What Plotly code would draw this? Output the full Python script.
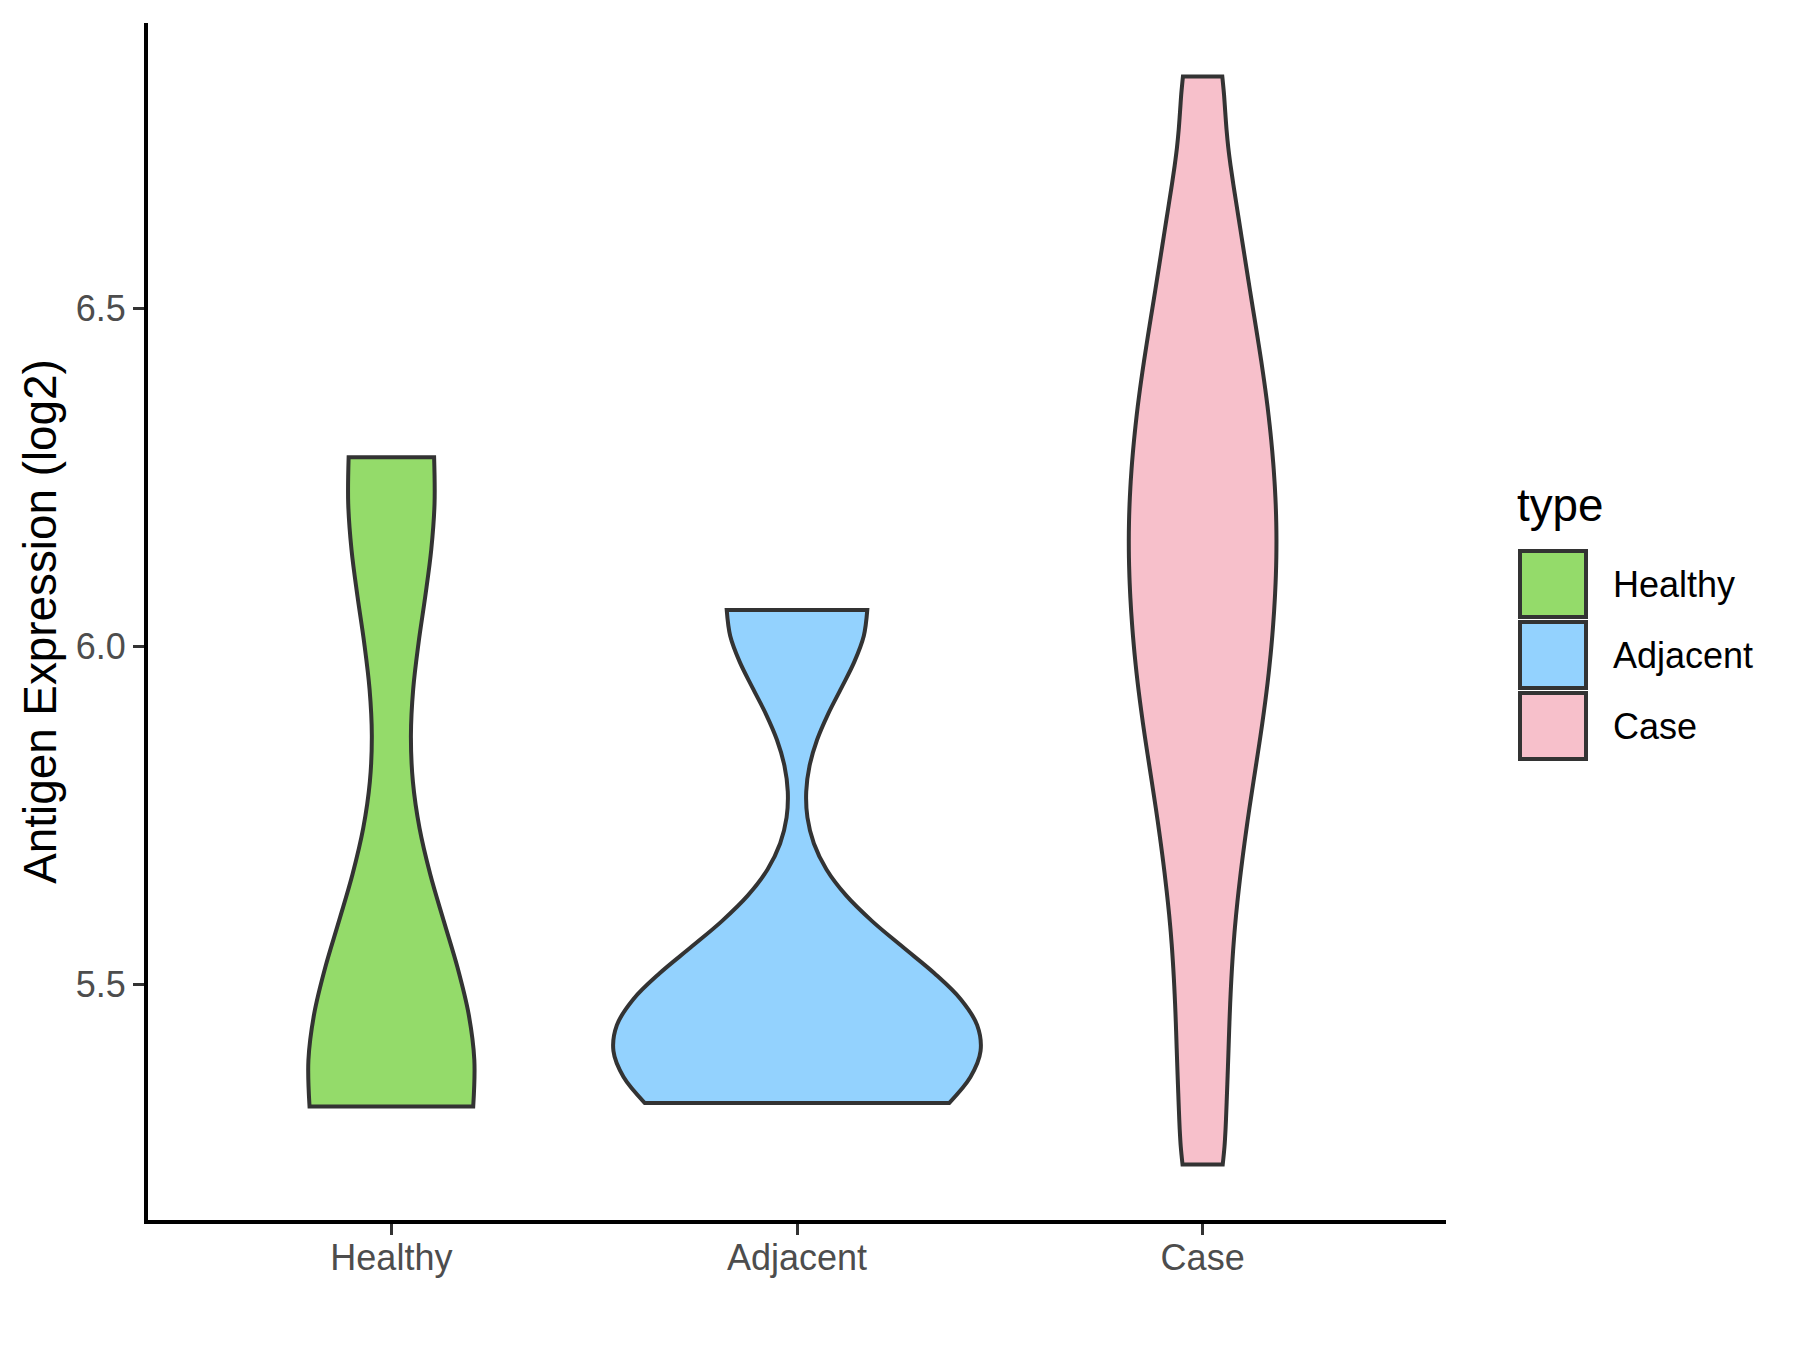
import plotly.graph_objects as go

# ---------------- data ----------------
categories = ["Healthy", "Adjacent", "Case"]
healthy_values = [5.32, 5.32, 5.34, 5.50, 6.20, 6.28]
adjacent_values = [5.325, 5.42, 5.48, 6.054]
case_values = [5.234, 5.372, 5.496, 5.607, 5.697, 5.772, 5.837, 5.892,
               5.945, 5.992, 6.039, 6.084, 6.128, 6.171, 6.215, 6.259,
               6.306, 6.353, 6.406, 6.460, 6.527, 6.601, 6.698, 6.843]
y_tick_values = [5.5, 6.0, 6.5]
y_tick_labels = ["5.5", "6.0", "6.5"]
y_title = "Antigen Expression (log2)"
legend_title = "type"

# ---------------- style ----------------
fill_colors = ["#94DB6A", "#93D2FE", "#F7C0CB"]
bandwidths = [0.22, 0.12, 0.08]
violin_widths = [0.409, 0.905, 0.364]
outline = "#333333"
FONT = "Liberation Sans, Arial, sans-serif"

W, H = 1800, 1350
OFF = 8                      # page offset of the figure (body margin)
L, R, T, B = 140, 362, 15, 138
plot_w = W - L - R
plot_h = H - T - B


def px_x(p):
    return (p - OFF - L) / plot_w


def px_y(p):
    return (OFF + T + plot_h - p) / plot_h


series = [healthy_values, adjacent_values, case_values]

fig = go.Figure()
for cat, vals, col, bw, wd in zip(categories, series, fill_colors, bandwidths, violin_widths):
    fig.add_trace(go.Violin(
        x=[cat] * len(vals),
        y=vals,
        name=cat,
        fillcolor=col,
        line=dict(color=outline, width=4),
        spanmode="hard",
        bandwidth=bw,
        scalemode="width",
        scalegroup=cat,
        width=wd,
        points=False,
        box_visible=False,
        meanline_visible=False,
        opacity=1,
        showlegend=False,
    ))

# ---------------- legend (ggplot style keys) ----------------
shapes = []
annotations = []
key_x0, key_x1 = 1520, 1586
key_centers = [584, 655, 726]
key_half = 33
for cat, col, cy in zip(categories, fill_colors, key_centers):
    shapes.append(dict(
        type="rect", xref="paper", yref="paper",
        x0=px_x(key_x0), x1=px_x(key_x1),
        y0=px_y(cy + key_half), y1=px_y(cy - key_half),
        fillcolor=col, line=dict(color=outline, width=4), layer="above",
    ))
    annotations.append(dict(
        xref="paper", yref="paper", x=px_x(1611), y=px_y(cy),
        xanchor="left", yanchor="middle", showarrow=False,
        text=cat, font=dict(family=FONT, size=36, color="black"),
    ))
annotations.append(dict(
    xref="paper", yref="paper", x=px_x(1515), y=px_y(505),
    xanchor="left", yanchor="middle", showarrow=False,
    text=legend_title, font=dict(family=FONT, size=45.8, color="black"),
))

fig.update_layout(
    width=W, height=H,
    margin=dict(l=L, r=R, t=T, b=B, pad=0),
    paper_bgcolor="white", plot_bgcolor="white",
    violinmode="overlay",
    showlegend=False,
    font=dict(family=FONT, size=36, color="#4D4D4D"),
    shapes=shapes,
    annotations=annotations,
    xaxis=dict(
        type="category",
        categoryorder="array", categoryarray=categories,
        range=[-0.6, 2.6],
        showline=True, linecolor="black", linewidth=4,
        ticks="outside", ticklen=11, tickwidth=3, tickcolor="#333333",
        ticklabelstandoff=-8,
        showgrid=False, zeroline=False,
        tickfont=dict(family=FONT, size=36, color="#4D4D4D"),
    ),
    yaxis=dict(
        range=[5.152, 6.922],
        tickvals=y_tick_values, ticktext=y_tick_labels,
        showline=True, linecolor="black", linewidth=4,
        ticks="outside", ticklen=11, tickwidth=3, tickcolor="#333333",
        showgrid=False, zeroline=False,
        tickfont=dict(family=FONT, size=36, color="#4D4D4D"),
        title=dict(text=y_title, font=dict(family=FONT, size=45.8, color="black"),
                   standoff=6),
    ),
)

fig.write_html("out.html")
